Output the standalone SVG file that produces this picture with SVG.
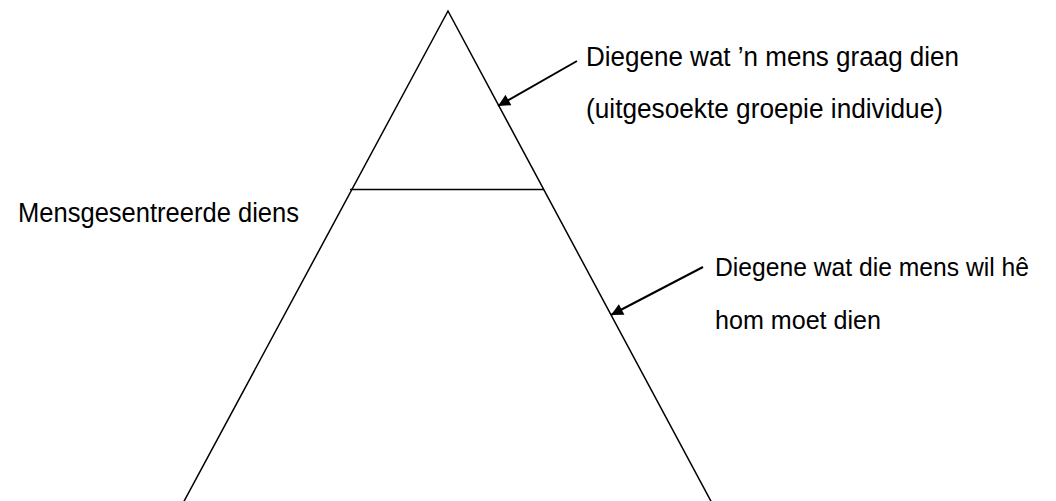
<svg xmlns="http://www.w3.org/2000/svg" width="1056" height="501" viewBox="0 0 1056 501">
<style>
.ln{stroke:#000;stroke-width:1.5;fill:none}
.ar{stroke:#000;stroke-width:2;fill:none}
text{font-family:"Liberation Sans",Arial,sans-serif;font-size:27px;fill:#000}
.sm{font-size:25px}
</style>
<defs>
<marker id="ah" viewBox="0 0 10 10" refX="10" refY="5" markerWidth="7" markerHeight="6" orient="auto" markerUnits="strokeWidth">
<path d="M0,0 L10,5 L0,10 Z" fill="#000"/>
</marker>
</defs>
<rect width="1056" height="501" fill="#fff"/>
<g id="pyramid">
<path class="ln" d="M182,505 L448,11 L713,505"/>
<line class="ln" x1="350" y1="189.5" x2="544" y2="189.5"/>
</g>
<g id="connectors">
<line class="ar" x1="577" y1="61" x2="498" y2="106" marker-end="url(#ah)"/>
<line class="ar" x1="703" y1="267" x2="611" y2="315" marker-end="url(#ah)"/>
</g>
<g id="label-top">
<text x="586" y="66" textLength="373" lengthAdjust="spacingAndGlyphs">Diegene wat ’n mens graag dien</text>
<text x="586" y="118" textLength="357" lengthAdjust="spacingAndGlyphs">(uitgesoekte groepie individue)</text>
</g>
<g id="label-left">
<text x="18" y="222" textLength="281" lengthAdjust="spacingAndGlyphs">Mensgesentreerde diens</text>
</g>
<g id="label-bottom">
<text class="sm" x="715" y="276" textLength="314" lengthAdjust="spacingAndGlyphs">Diegene wat die mens wil hê</text>
<text class="sm" x="715" y="329" textLength="166" lengthAdjust="spacingAndGlyphs">hom moet dien</text>
</g>
</svg>
